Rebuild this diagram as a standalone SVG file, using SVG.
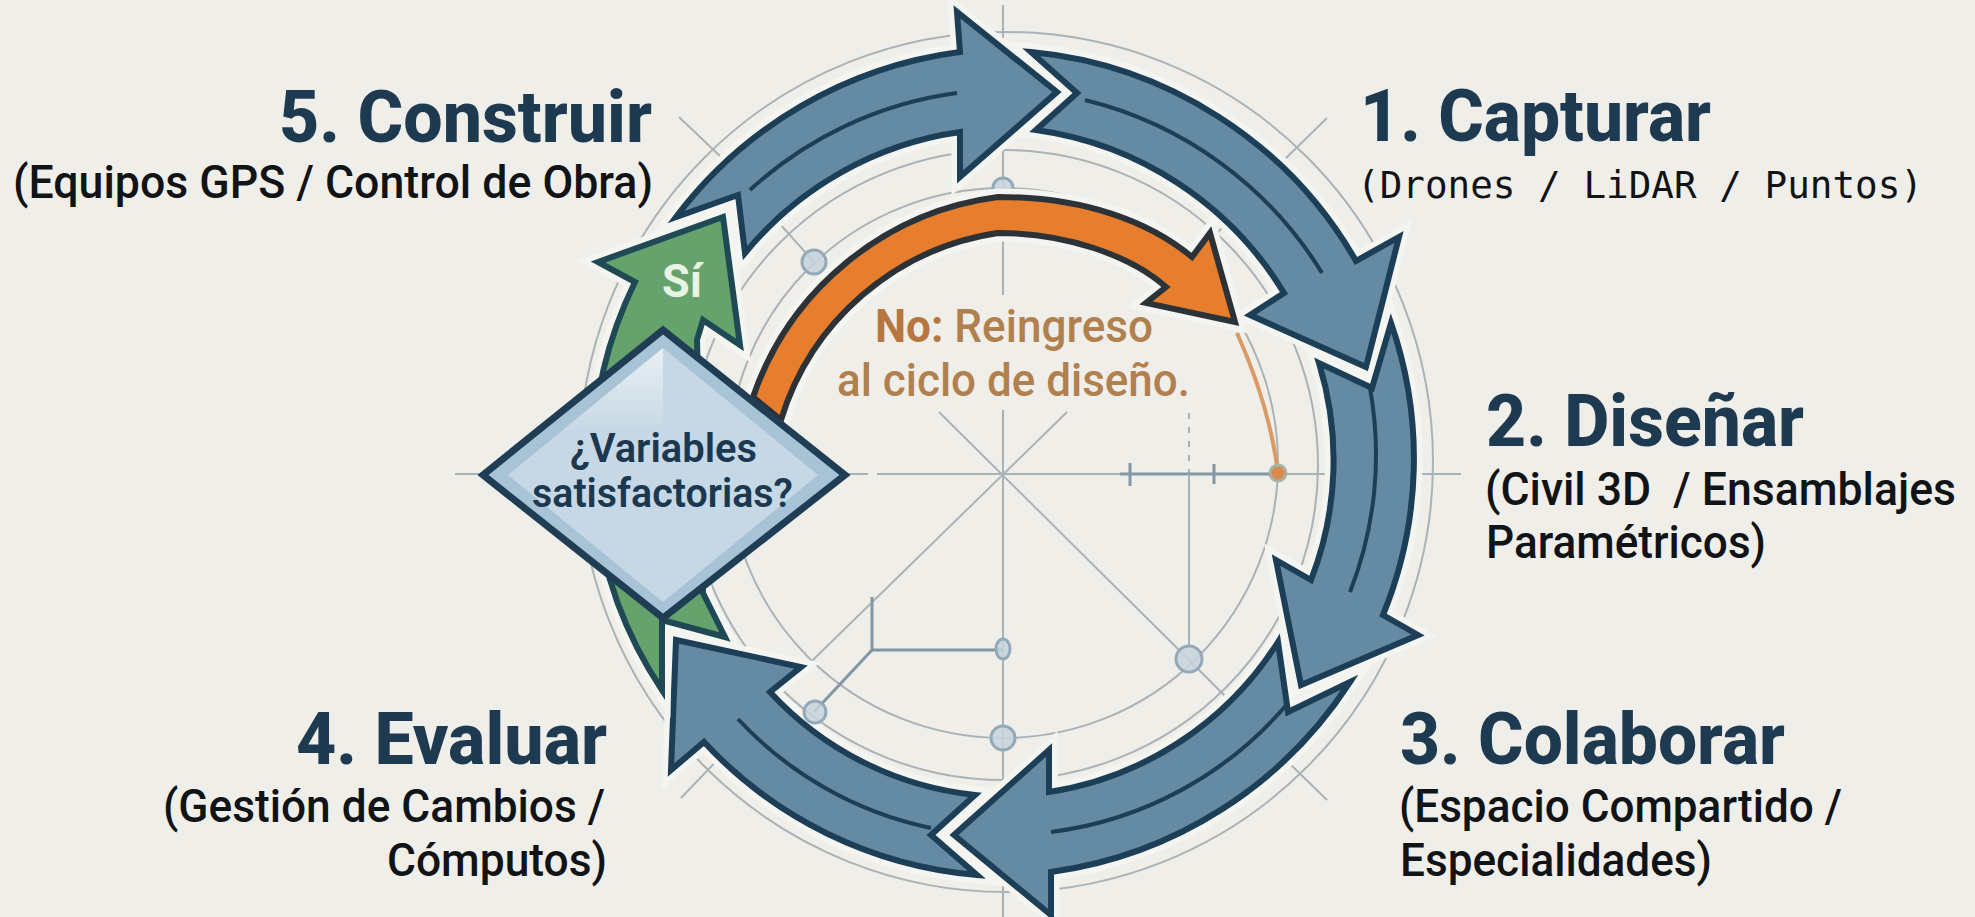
<svg xmlns="http://www.w3.org/2000/svg" width="1975" height="917" viewBox="0 0 1975 917">
<defs>
<linearGradient id="gl" x1="0" y1="0" x2="0" y2="1"><stop offset="0" stop-color="#f2f5f7" stop-opacity=".8"/><stop offset="1" stop-color="#f2f5f7" stop-opacity="0"/></linearGradient>
</defs>
<style>
text{font-family:Roboto,"Liberation Sans",sans-serif;white-space:pre}
.t{font-weight:800;font-size:73px;fill:#1e3a50}
.s{font-weight:500;font-size:46px;fill:#111417}
.m{font-family:"DejaVu Sans Mono","Liberation Mono",monospace;font-size:37px;fill:#111417}
.o{font-weight:500;font-size:46px;fill:#b0804f}
.d{font-weight:600;font-size:40px;fill:#1b3850}
.g{fill:none;stroke:#a9b3b7;stroke-width:2}
.gd{fill:none;stroke:#8296a3;stroke-width:3}
.c{fill:#c5d3dc;fill-opacity:.85;stroke:#93a9b8;stroke-width:3}
.h{stroke:#f4f5f1;stroke-width:17;stroke-linejoin:miter;fill:#f4f5f1}
.a{fill:#658aa4;stroke:#1d3e57;stroke-width:6;stroke-linejoin:miter}
.l{fill:none;stroke:#1d3e57;stroke-width:4}
</style>
<rect width="1975" height="917" fill="#f0eee9"/>
<g id="construction">
<ellipse class="g" cx="1006" cy="462" rx="427" ry="430"/>
<circle class="g" cx="1003" cy="465" r="315"/>
<circle class="g" cx="1003" cy="463" r="275"/>
<path class="g" d="M1003 5V295M1003 410V917M455 474H868M877 474H1461M679 117L722 158M779 223L814 262M1327 118L1284 160M1228 223L1212 237M939 412L1176 647L1227 698M1067 412L816 657L681 798M1327 800L1288 762"/>
<path class="g" d="M1189 413V474" stroke-dasharray="6 8"/>
<path class="gd" d="M1120 474H1278M1130 463V486M1214 464V484"/>
<path class="g" d="M1189 474V647"/>
<path class="gd" d="M872 650V597M872 650H1003"/>
<circle class="c" cx="1003" cy="188" r="10"/>
<circle class="c" cx="814" cy="262" r="12"/>
<circle class="c" cx="1189" cy="659" r="13"/>
<ellipse class="c" cx="1003" cy="649" rx="7" ry="10"/>
<circle class="c" cx="1003" cy="738" r="12"/>
</g>
<g id="connectors">
<g id="arrow-5-1">
<path class="h" d="M957 12L960 52A424 424 0 0 0 676 217L738 195L745 253A340 340 0 0 1 960 132L960 177L1057 92Z"/>
<path class="a" d="M957 12L960 52A424 424 0 0 0 676 217L738 195L745 253A340 340 0 0 1 960 132L960 177L1057 92Z"/>
<path class="l" d="M957 93A380 380 0 0 0 750 190"/>
</g>
<g id="arrow-1-2">
<path class="h" d="M1031 52L1077 93L1036 130A345 345 0 0 1 1284 293L1250 315L1366 367L1399 237L1356 261A420 420 0 0 0 1031 52Z"/>
<path class="a" d="M1031 52L1077 93L1036 130A345 345 0 0 1 1284 293L1250 315L1366 367L1399 237L1356 261A420 420 0 0 0 1031 52Z"/>
<path class="l" d="M1085 100A385 385 0 0 1 1322 273"/>
</g>
<g id="arrow-2-3">
<path class="h" d="M1391 323L1372 388L1319 363A330 330 0 0 1 1311 580L1276 560L1301 685L1418 635L1383 615A412 412 0 0 0 1391 323Z"/>
<path class="a" d="M1391 323L1372 388L1319 363A330 330 0 0 1 1311 580L1276 560L1301 685L1418 635L1383 615A412 412 0 0 0 1391 323Z"/>
<path class="l" d="M1370 388A375 375 0 0 1 1350 592"/>
</g>
<g id="arrow-3-4">
<path class="h" d="M1350 682L1288 712L1278 642A330 330 0 0 1 1049 792L1049 750L954 835L1051 915L1051 872A425 425 0 0 0 1350 682Z"/>
<path class="a" d="M1350 682L1288 712L1278 642A330 330 0 0 1 1049 792L1049 750L954 835L1051 915L1051 872A425 425 0 0 0 1350 682Z"/>
<path class="l" d="M1051 832A370 370 0 0 0 1288 703"/>
</g>
<g id="arrow-4-decision">
<path class="h" d="M977 875L931 835L975 795A325 325 0 0 1 770 692L801 667L676 640L671 770L704 742A420 420 0 0 0 977 875Z"/>
<path class="a" d="M977 875L931 835L975 795A325 325 0 0 1 770 692L801 667L676 640L671 770L704 742A420 420 0 0 0 977 875Z"/>
<path class="l" d="M931 828A365 365 0 0 1 738 719"/>
</g>
<g id="arrow-si">
<path class="h" d="M723 217L740 345L703 320L697 340L703 593L725 637L662 620L662 690A410 410 0 0 1 635 282L598 262Z"/>
<path fill="#66a36c" stroke="#1f4a55" stroke-width="6" d="M723 217L740 345L703 320L697 340L703 593L725 637L662 620L662 690A410 410 0 0 1 635 282L598 262Z"/>
<text x="662" y="297" font-size="46" font-weight="700" fill="#e8f3e4" textLength="40" lengthAdjust="spacingAndGlyphs">Sí</text>
</g>
<g id="arrow-no">
<path class="h" d="M753 397A300 300 0 0 1 998 197C1085 197 1150 222 1192 257L1210 233L1235 322L1146 303L1166 287C1130 255 1065 233 998 233A268 268 0 0 0 781 420Z"/>
<path fill="#e67e2e" stroke="#2b3338" stroke-width="6" d="M753 397A300 300 0 0 1 998 197C1085 197 1150 222 1192 257L1210 233L1235 322L1146 303L1166 287C1130 255 1065 233 998 233A268 268 0 0 0 781 420Z"/>
<path fill="none" stroke="#d99a66" stroke-width="4" d="M1237 333C1258 380 1272 425 1278 473"/>
<circle cx="1278" cy="473" r="8" fill="#d98a4e" stroke="#a9b3a0" stroke-width="3"/>
</g>
</g>
<g id="construction-top">
<path class="gd" d="M814 712L872 650"/>
<circle class="c" cx="815" cy="712" r="11"/>
</g>
<g id="node-decision">
<path fill="#a9c3d6" stroke="#1f3d54" stroke-width="7" d="M483 475L663 330L845 475L663 618Z"/>
<path fill="#c6d8e5" d="M508 475L663 348L818 475L663 602Z"/>
<path fill="url(#gl)" d="M663 348L560 432H663Z"/>
<text class="d" x="570" y="462" textLength="187" lengthAdjust="spacingAndGlyphs">¿Variables</text>
<text class="d" x="532" y="507" textLength="261" lengthAdjust="spacingAndGlyphs">satisfactorias?</text>
</g>
<g id="label-no">
<text class="o" x="875" y="342" textLength="278" lengthAdjust="spacingAndGlyphs"><tspan font-weight="700" fill="#b5763f">No:</tspan> Reingreso</text>
<text class="o" x="837" y="396" textLength="353" lengthAdjust="spacingAndGlyphs">al ciclo de diseño.</text>
</g>
<g id="node-capturar">
<text class="t" x="1360" y="141" textLength="351" lengthAdjust="spacingAndGlyphs">1. Capturar</text>
<text class="m" x="1357" y="198" textLength="566" lengthAdjust="spacingAndGlyphs">(Drones / LiDAR / Puntos)</text>
</g>
<g id="node-disenar">
<text class="t" x="1486" y="446" textLength="318" lengthAdjust="spacingAndGlyphs">2. Diseñar</text>
<text class="s" x="1485" y="505" textLength="471" lengthAdjust="spacingAndGlyphs">(Civil 3D  / Ensamblajes</text>
<text class="s" x="1486" y="558" textLength="280" lengthAdjust="spacingAndGlyphs">Paramétricos)</text>
</g>
<g id="node-colaborar">
<text class="t" x="1400" y="764" textLength="385" lengthAdjust="spacingAndGlyphs">3. Colaborar</text>
<text class="s" x="1399" y="822" textLength="443" lengthAdjust="spacingAndGlyphs">(Espacio Compartido /</text>
<text class="s" x="1400" y="876" textLength="312" lengthAdjust="spacingAndGlyphs">Especialidades)</text>
</g>
<g id="node-evaluar">
<text class="t" x="296" y="764" textLength="311" lengthAdjust="spacingAndGlyphs">4. Evaluar</text>
<text class="s" x="163" y="822" textLength="442" lengthAdjust="spacingAndGlyphs">(Gestión de Cambios /</text>
<text class="s" x="387" y="876" textLength="220" lengthAdjust="spacingAndGlyphs">Cómputos)</text>
</g>
<g id="node-construir">
<text class="t" x="279" y="142" textLength="373" lengthAdjust="spacingAndGlyphs">5. Construir</text>
<text class="s" x="13" y="198" textLength="640" lengthAdjust="spacingAndGlyphs">(Equipos GPS / Control de Obra)</text>
</g>
</svg>
